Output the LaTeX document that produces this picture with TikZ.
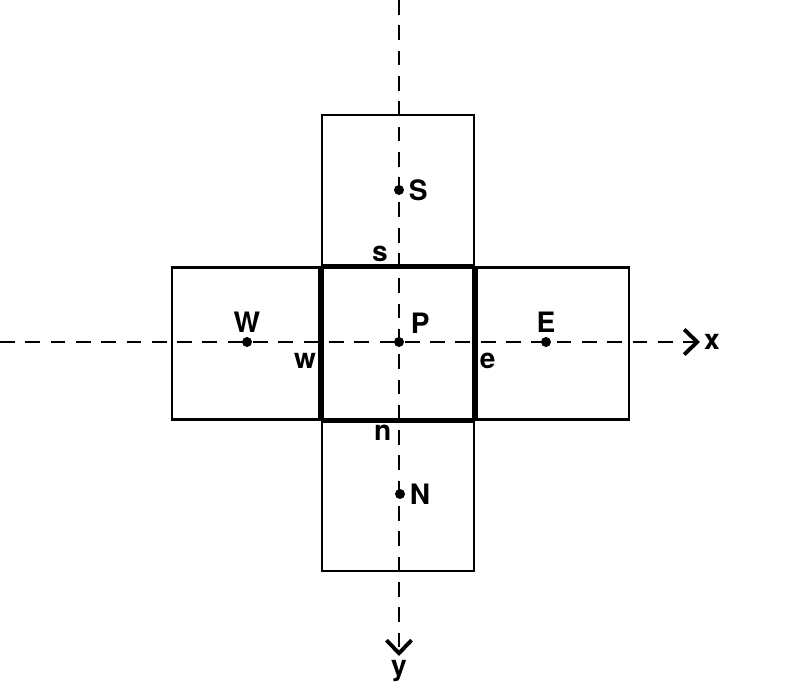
\documentclass[tikz,border=0pt]{standalone}
\usepackage{fontspec}
\setmainfont{TeX Gyre Heros}
\usetikzlibrary{arrows.meta,positioning}
\tikzset{
  cell/.style={draw=black,line width=.6pt,minimum size=1.52cm,inner sep=0pt},
  maincell/.style={cell,line width=1pt},
  grid point/.style={circle,fill=black,inner sep=0pt,minimum size=1mm},
  axis/.style={draw=black,line width=.5pt,dash pattern=on 4.2pt off 3pt,-{Straight Barb[length=1.3mm,width=2.5mm,line width=1.1pt]}},
  lbl/.style={font=\footnotesize\bfseries,inner sep=1pt}
}
\begin{document}
\begin{tikzpicture}
  \useasboundingbox (0,0) rectangle (7.99,-6.84);
  % cells
  \node[maincell] (cellP) at (3.98,-3.435) {};
  \node[cell,minimum width=1.47cm,left=0pt of cellP] (cellW) {};
  \node[cell,right=0pt of cellP] (cellE) {};
  \node[cell,minimum height=1.5cm,above=0pt of cellP] (cellS) {};
  \node[cell,minimum height=1.49cm,below=0pt of cellP] (cellN) {};
  % axes
  \coordinate (xstart) at (0,-3.42);
  \coordinate (xend) at (7.0,-3.42);
  \coordinate (ystart) at (3.99,0);
  \coordinate (yend) at (3.99,-6.56);
  \draw[axis] (xstart) -- (xend);
  \draw[axis] (ystart) -- (yend);
  \node[lbl,right=0pt of xend] (xlab) {x};
  \node[lbl,below=0pt of yend] (ylab) {y};
  % nodal points
  \node[grid point,label={[lbl,xshift=1pt]above right:P}] (P) at (3.99,-3.42) {};
  \node[grid point,label={[lbl]above:W}] (W) at (2.47,-3.42) {};
  \node[grid point,label={[lbl]above:E}] (E) at (5.46,-3.42) {};
  \node[grid point,label={[lbl]right:S}] (S) at (3.99,-1.90) {};
  \node[grid point,label={[lbl]right:N}] (N) at (4.00,-4.94) {};
  % face labels
  \node[lbl,anchor=north east] (w) at ([yshift=-2pt]cellP.west |- P) {w};
  \node[lbl,anchor=north west] (e) at ([yshift=-2pt]cellP.east |- P) {e};
  \node[lbl,anchor=south east] (s) at ([xshift=-2pt]cellP.north -| P) {s};
  \node[lbl,anchor=north east] (n) at ([xshift=-1pt]cellP.south -| P) {n};
\end{tikzpicture}
\end{document}
